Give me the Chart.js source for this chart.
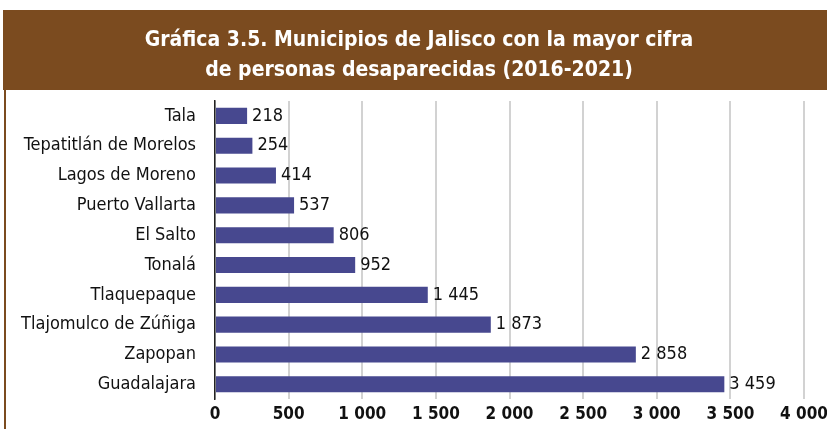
<!DOCTYPE html>
<html><head><meta charset="utf-8">
<script src="https://cdn.jsdelivr.net/npm/chart.js@4/dist/chart.umd.min.js"></script>
<style>html,body{margin:0;padding:0;background:#fff;}#wrap{position:relative;width:827px;height:429px;}</style>
</head><body><div id="wrap"><canvas id="c" width="827" height="429"></canvas></div>
<script>
const categories = ["Tala","Tepatitlán de Morelos","Lagos de Moreno","Puerto Vallarta","El Salto","Tonalá","Tlaquepaque","Tlajomulco de Zúñiga","Zapopan","Guadalajara"];
const values = [218,254,414,537,806,952,1445,1873,2858,3459];
const titleLines = ["Gráfica 3.5. Municipios de Jalisco con la mayor cifra","de personas desaparecidas (2016-2021)"];
const xTicks = [0,500,1000,1500,2000,2500,3000,3500,4000];

const FONT = "'Liberation Sans Narrow','DejaVu Sans Condensed',sans-serif";
const BROWN = '#7b4b1f';
const fmt = v => String(v).replace(/\B(?=(\d{3})+(?!\d))/g, ' ');

const frame = {
  id: 'frame',
  afterLayout(chart) {
    if (chart.titleBlock) chart.titleBlock.left += 19;
  },
  beforeDraw(chart) {
    const ctx = chart.ctx;
    ctx.save();
    ctx.fillStyle = BROWN;
    ctx.fillRect(3, 10, 824, 80);
    ctx.fillRect(4, 90, 2, 339);
    ctx.restore();
  }
};
const valueLabels = {
  id: 'valueLabels',
  afterDatasetsDraw(chart) {
    const ctx = chart.ctx;
    const meta = chart.getDatasetMeta(0);
    ctx.save();
    ctx.font = '18px ' + FONT;
    ctx.fillStyle = '#111';
    ctx.textAlign = 'left';
    ctx.textBaseline = 'middle';
    meta.data.forEach((bar, i) => {
      ctx.fillText(fmt(values[i]), bar.x + 5, bar.y);
    });
    ctx.restore();
  }
};

new Chart(document.getElementById('c'), {
  type: 'bar',
  data: { labels: categories, datasets: [{ data: values, backgroundColor: '#47488f', barPercentage: 0.54, categoryPercentage: 1 }] },
  options: {
    indexAxis: 'y', responsive: false, animation: false,
    layout: { padding: { top: 10, left: 15, right: 23, bottom: 4 } },
    plugins: {
      legend: { display: false }, tooltip: { enabled: false },
      title: { display: true, text: titleLines, color: '#fff', font: { family: FONT, size: 21, weight: 'bold', lineHeight: 30/21 }, padding: { top: 16, bottom: 15 } }
    },
    scales: {
      x: { min: 0, max: 4000, afterBuildTicks: s => { s.ticks = xTicks.map(v => ({ value: v })); },
        ticks: { color: '#111', font: { family: FONT, size: 17, weight: 'bold' }, padding: 5, callback: v => fmt(v), maxRotation: 0, autoSkip: false },
        grid: { color: '#d2d2d2', lineWidth: 2, drawTicks: false }, border: { display: false },
        afterFit: s => { s.height = 25; s.paddingRight = 0; s.paddingLeft = 0; } },
      y: { ticks: { color: '#111', font: { family: FONT, size: 18 }, padding: 19 }, grid: { display: false, drawTicks: false },
        border: { display: true, color: '#222', width: 1.5 },
        afterFit: s => { s.width = 200; } }
    }
  },
  plugins: [frame, valueLabels]
});
</script></body></html>
